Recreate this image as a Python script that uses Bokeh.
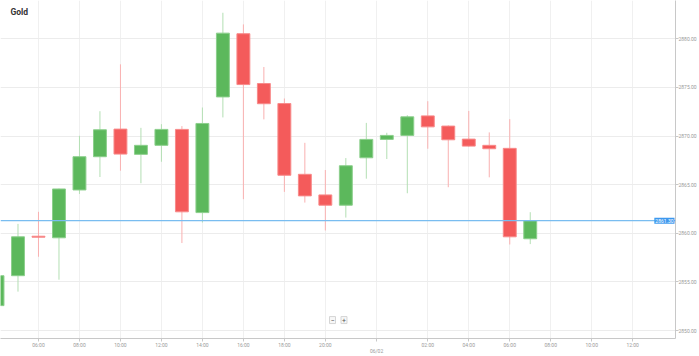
from bokeh.plotting import figure
from bokeh.models import Range1d, FixedTicker, Span, Label, PrintfTickFormatter, ColumnDataSource
from bokeh.embed import file_html
from bokeh.resources import INLINE

# ---------------- data ----------------
title = "Gold"
hours = [4, 5, 6, 7, 8, 9, 10, 11, 12, 13, 14, 15, 16, 17, 18, 19, 20, 21, 23,
         0, 1, 2, 3, 4, 5, 6, 7]
opens = [2852.56, 2855.64, 2859.70, 2859.54, 2864.46, 2867.88, 2870.72, 2868.12, 2869.05,
         2870.69, 2862.13, 2874.03, 2880.53, 2875.41, 2873.35, 2866.07, 2863.95, 2862.89,
         2867.77, 2869.66, 2870.07, 2872.08, 2871.03, 2869.69, 2869.05, 2868.74, 2859.44]
highs = [2855.90, 2860.97, 2862.21, 2864.60, 2870.03, 2872.56, 2877.38, 2870.85, 2871.23,
         2871.03, 2872.94, 2882.69, 2881.49, 2877.11, 2873.87, 2869.31, 2866.51, 2867.74,
         2871.36, 2870.34, 2872.15, 2873.59, 2871.10, 2872.59, 2870.38, 2871.74, 2862.17]
lows = [2852.20, 2854.00, 2857.59, 2855.23, 2864.05, 2865.79, 2866.44, 2865.15, 2867.36,
        2859.00, 2861.11, 2871.92, 2863.51, 2871.72, 2864.26, 2863.16, 2860.29, 2861.62,
        2865.62, 2867.64, 2864.12, 2868.70, 2864.74, 2868.90, 2865.76, 2858.85, 2858.89]
closes = [2855.64, 2859.64, 2859.60, 2864.56, 2867.88, 2870.65, 2868.15, 2869.05, 2870.69,
          2862.21, 2871.30, 2880.59, 2875.30, 2873.33, 2865.97, 2863.85, 2862.89, 2866.95,
          2869.66, 2870.07, 2871.98, 2870.95, 2869.62, 2868.97, 2868.70, 2859.64, 2861.30]
future_hours = [8, 9, 10, 11, 12, 13]
date_label = "06/02"
last_price = 2861.30
y_ticks = [2850, 2855, 2860, 2865, 2870, 2875, 2880]

# ---------------- layout constants ----------------
W, H = 699, 356
PX_PER_BAR = 20.49
PX_PER_UNIT = 9.75
FRAME_W = 675
FRAME_H = 339
X0_PAGE = -3.0           # page x of bar 0 in the reference
Y2880_PAGE = 38.5        # page y of 2880 in the reference

x_lo = (0 - X0_PAGE) / PX_PER_BAR
x_hi = (FRAME_W - X0_PAGE) / PX_PER_BAR
y_hi = 2880 + (Y2880_PAGE - 0) / PX_PER_UNIT
y_lo = 2880 - (FRAME_H - Y2880_PAGE) / PX_PER_UNIT

def px_x(px):
    return (px - X0_PAGE) / PX_PER_BAR

def px_y(py):
    return 2880 - (py - Y2880_PAGE) / PX_PER_UNIT

UP, DOWN = "#5cb85c", "#f45b5b"
UP_WICK, DOWN_WICK = "#b3dfb3", "#f9b0b0"
UP_EDGE, DOWN_EDGE = "#8ccf8c", "#f88a8a"

idx = list(range(len(opens)))
up = [c >= o for o, c in zip(opens, closes)]
src = ColumnDataSource(dict(
    x=idx,
    top=[max(o, c) for o, c in zip(opens, closes)],
    bottom=[min(o, c) for o, c in zip(opens, closes)],
    high=highs, low=lows,
    fill=[UP if u else DOWN for u in up],
    wick=[UP_WICK if u else DOWN_WICK for u in up],
    edge=[UP_EDGE if u else DOWN_EDGE for u in up],
))

p = figure(width=W, height=H, output_backend="svg", toolbar_location=None,
           x_range=Range1d(x_lo, x_hi), y_range=Range1d(y_lo, y_hi),
           y_axis_location="right", min_border_left=0, min_border_top=0,
           min_border_right=0, min_border_bottom=0)
p.outline_line_color = None
p.background_fill_color = "white"

# ticks along x
all_hours = hours + future_hours
tick_pos, tick_lab = [], []
for i, h in enumerate(all_hours):
    if h == 0:
        tick_pos.append(i - 0.5)
        tick_lab.append("\n" + date_label)
    elif h % 2 == 0:
        tick_pos.append(i)
        tick_lab.append("%02d:00" % h)

xa = p.xaxis[0]
xa.ticker = FixedTicker(ticks=tick_pos)
xa.major_label_overrides = {t: l for t, l in zip(tick_pos, tick_lab)}
xa.minor_tick_line_color = None
xa.axis_line_color = "#c8c8c8"
xa.major_tick_line_color = "#c8c8c8"
xa.major_tick_in = 0
xa.major_tick_out = 3
xa.major_label_standoff = 0
xa.major_label_text_font = "Roboto"
xa.major_label_text_font_size = "5px"
xa.major_label_text_line_height = 1.0
xa.major_label_text_color = "#9a9a9a"

ya = p.yaxis[0]
ya.ticker = FixedTicker(ticks=y_ticks)
ya.formatter = PrintfTickFormatter(format="%.2f")
ya.minor_tick_line_color = None
ya.axis_line_color = "#c8c8c8"
ya.major_tick_line_color = "#c8c8c8"
ya.major_tick_in = 0
ya.major_tick_out = 3
ya.major_label_standoff = 0
ya.major_label_text_font = "Roboto"
ya.major_label_text_font_size = "5px"
ya.major_label_text_color = "#9a9a9a"

p.xgrid.grid_line_color = "#f0f0f0"
p.ygrid.grid_line_color = "#ececec"

p.segment(x0="x", y0="high", x1="x", y1="low", source=src, line_color="wick", line_width=1)
p.vbar(x="x", top="top", bottom="bottom", width=0.63, source=src,
       fill_color="fill", line_color="edge", line_width=1)

p.add_layout(Span(location=last_price, dimension="width", line_color="#79bdf0", line_width=1.3))

# last-price tag (kept inside the frame, where annotations are drawn)
p.add_layout(Label(x=x_hi, y=last_price, x_offset=-1, text="%.2f" % last_price,
                   text_font="Roboto", text_font_size="5px", text_color="white",
                   text_baseline="middle", text_align="right", level="overlay",
                   background_fill_color="#3d98ee", padding=1))

p.add_layout(Label(x=px_x(10), y=px_y(11.5), text=title, text_font="Roboto",
                   text_font_size="8.5px", text_font_style="bold", text_color="#333333",
                   text_baseline="middle", text_align="left"))

for sym, px in (("\u2212", 332), ("+", 343.5)):
    p.add_layout(Label(x=px_x(px), y=px_y(320.5), text=sym, text_font="Roboto",
                       text_font_size="7px", text_color="#555555", text_baseline="middle",
                       text_align="center", background_fill_color="#f7f7f7",
                       border_line_color="#d5d5d5", padding=1))

open("out.html", "w").write(file_html(p, INLINE))
